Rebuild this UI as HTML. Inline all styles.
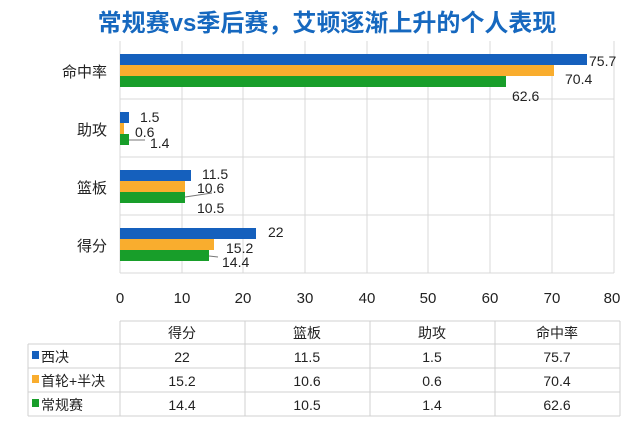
<!DOCTYPE html>
<html><head><meta charset="utf-8"><style>
body{margin:0;background:#fff;}
svg text{font-family:"Liberation Sans","Noto Sans CJK SC",sans-serif;fill:#222;}
</style></head><body>
<svg width="640" height="427" viewBox="0 0 640 427" xmlns="http://www.w3.org/2000/svg">
<rect width="640" height="427" fill="#fff"/>
<text x="327" y="31" text-anchor="middle" font-size="24" font-weight="bold" style="fill:#1668bf">常规赛vs季后赛，艾顿逐渐上升的个人表现</text>
<g stroke="#d9d9d9" stroke-width="1">
<line x1="120" y1="41" x2="120" y2="273"/><line x1="182" y1="41" x2="182" y2="273"/><line x1="243" y1="41" x2="243" y2="273"/>
<line x1="305" y1="41" x2="305" y2="273"/><line x1="367" y1="41" x2="367" y2="273"/><line x1="428" y1="41" x2="428" y2="273"/>
<line x1="490" y1="41" x2="490" y2="273"/><line x1="552" y1="41" x2="552" y2="273"/><line x1="614" y1="41" x2="614" y2="273"/>
<line x1="120" y1="99" x2="614" y2="99"/><line x1="120" y1="157" x2="614" y2="157"/><line x1="120" y1="215" x2="614" y2="215"/><line x1="120" y1="273" x2="614" y2="273"/>
</g>
<g>
<rect x="120" y="54" width="467" height="11" fill="#1560bd"/><rect x="120" y="65" width="434" height="11" fill="#f9ad2e"/><rect x="120" y="76" width="386" height="11" fill="#189e2a"/>
<rect x="120" y="112" width="9" height="11" fill="#1560bd"/><rect x="120" y="123" width="4" height="11" fill="#f9ad2e"/><rect x="120" y="134" width="9" height="11" fill="#189e2a"/>
<rect x="120" y="170" width="71" height="11" fill="#1560bd"/><rect x="120" y="181" width="65" height="11" fill="#f9ad2e"/><rect x="120" y="192" width="65" height="11" fill="#189e2a"/>
<rect x="120" y="228" width="136" height="11" fill="#1560bd"/><rect x="120" y="239" width="94" height="11" fill="#f9ad2e"/><rect x="120" y="250" width="89" height="11" fill="#189e2a"/>
</g>
<g stroke="#777" fill="none"><line x1="129" y1="140" x2="145" y2="140"/><line x1="185" y1="197" x2="212" y2="193"/><line x1="209" y1="256" x2="218" y2="257"/></g>
<g font-size="14">
<text x="589" y="66">75.7</text><text x="565" y="84">70.4</text><text x="512" y="101">62.6</text>
<text x="140" y="122">1.5</text><text x="135" y="137">0.6</text><text x="150" y="148">1.4</text>
<text x="202" y="179">11.5</text><text x="197" y="193">10.6</text><text x="197" y="213">10.5</text>
<text x="268" y="237">22</text><text x="226" y="253">15.2</text><text x="222" y="267">14.4</text>
</g>
<g font-size="15" text-anchor="end">
<text x="107" y="77">命中率</text><text x="107" y="135">助攻</text><text x="107" y="193">篮板</text><text x="107" y="251">得分</text>
</g>
<g font-size="15" text-anchor="middle">
<text x="120" y="303">0</text><text x="182" y="303">10</text><text x="243" y="303">20</text><text x="305" y="303">30</text><text x="367" y="303">40</text><text x="428" y="303">50</text><text x="490" y="303">60</text><text x="552" y="303">70</text><text x="612" y="303">80</text>
</g>
<g stroke="#d0d0d0" fill="none">
<line x1="120" y1="321" x2="620" y2="321"/><line x1="28" y1="344" x2="620" y2="344"/><line x1="28" y1="368" x2="620" y2="368"/><line x1="28" y1="392" x2="620" y2="392"/><line x1="28" y1="416" x2="620" y2="416"/>
<line x1="28" y1="344" x2="28" y2="416"/><line x1="120" y1="321" x2="120" y2="416"/><line x1="245" y1="321" x2="245" y2="416"/><line x1="370" y1="321" x2="370" y2="416"/><line x1="495" y1="321" x2="495" y2="416"/><line x1="620" y1="321" x2="620" y2="416"/>
</g>
<g font-size="14" text-anchor="middle">
<text x="182" y="338">得分</text><text x="307" y="338">篮板</text><text x="432" y="338">助攻</text><text x="557" y="338">命中率</text>
<text x="182" y="362">22</text><text x="307" y="362">11.5</text><text x="432" y="362">1.5</text><text x="557" y="362">75.7</text>
<text x="182" y="386">15.2</text><text x="307" y="386">10.6</text><text x="432" y="386">0.6</text><text x="557" y="386">70.4</text>
<text x="182" y="410">14.4</text><text x="307" y="410">10.5</text><text x="432" y="410">1.4</text><text x="557" y="410">62.6</text>
</g>
<rect x="32" y="351" width="7" height="8" fill="#1560bd"/><rect x="32" y="375" width="7" height="8" fill="#f9ad2e"/><rect x="32" y="399" width="7" height="8" fill="#189e2a"/>
<g font-size="14"><text x="41" y="362">西决</text><text x="41" y="386">首轮+半决</text><text x="41" y="410">常规赛</text></g>
</svg>
</body></html>
